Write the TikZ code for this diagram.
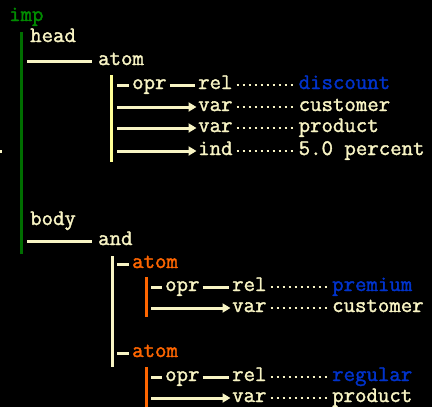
\documentclass[tikz,border=0pt]{standalone}
\usepackage{fontspec}
\newfontfamily\cour{Latin Modern Mono}[FakeBold=1.6]
\usetikzlibrary{arrows.meta}
\definecolor{cream}{RGB}{248,244,196}
\definecolor{barylw}{RGB}{255,255,150}
\definecolor{impgreen}{RGB}{0,140,0}
\definecolor{bargreen}{RGB}{0,110,0}
\definecolor{valblue}{RGB}{0,51,204}
\definecolor{atomorange}{RGB}{255,102,0}
\begin{document}
\begin{tikzpicture}[x=1pt,y=-1pt,
  txt/.style={anchor=base west, inner sep=0pt, text=cream,
    font=\cour\fontsize{22.2}{23}\selectfont},
  conn/.style={draw=cream, line width=3pt},
  arr/.style={conn, -{Triangle[length=8pt,width=9pt]}},
  dots/.style={draw=cream, line width=2pt, dash pattern=on 2pt off 4pt},
  bar/.style={line width=3pt}]
\fill[black] (0,0) rectangle (432,407);
\useasboundingbox (0,0) rectangle (432,407);
\fill[cream] (0,149.5) rectangle (2,152.5);
% head part
\node[txt,text=impgreen] (imp) at (9,21) {imp};
\node[txt] (head) at (30,42) {head};
\node[txt] (atom) at (98,65) {atom};
\node[txt] (opr1) at (132,89) {opr};
\node[txt] (rel1) at (198,89) {rel};
\node[txt] (var1) at (198,111) {var};
\node[txt] (var2) at (198,132) {var};
\node[txt] (ind) at (198,155) {ind};
\node[txt,text=valblue] (discount) at (298.5,89) {discount};
\node[txt] (customer1) at (298.5,111) {customer};
\node[txt] (product1) at (298.5,132) {product};
\node[txt] (pct) at (298.5,155) {5.0 percent};
\coordinate (g0) at (21,32);
\coordinate (g1) at (21,254);
\draw[bar,draw=bargreen] (g0) -- (g1);
\coordinate (h0) at (27,61);
\draw[conn,shorten >=6pt] (h0) -- (h0 -| atom.west);
\coordinate (y0) at (111,75);
\coordinate (y1) at (111,162);
\draw[bar,draw=barylw] (y0) -- (y1);
\coordinate (r0) at (117,85);
\draw[conn,shorten >=3pt] (r0) -- (r0 -| opr1.west);
\draw[conn,shorten <=3pt,shorten >=3pt] (opr1.east |- r0) -- (rel1.west |- r0);
\coordinate (r1) at (117,107);
\draw[arr,shorten >=1.5pt] (r1) -- (r1 -| var1.west);
\coordinate (r2) at (117,128);
\draw[arr,shorten >=1.5pt] (r2) -- (r2 -| var2.west);
\coordinate (r3) at (117,151);
\draw[arr,shorten >=1.5pt] (r3) -- (r3 -| ind.west);
\draw[dots,shorten <=4pt,shorten >=4.5pt] (rel1.east |- r0) -- (discount.west |- r0);
\draw[dots,shorten <=4pt,shorten >=4.5pt] (var1.east |- r1) -- (customer1.west |- r1);
\draw[dots,shorten <=4pt,shorten >=4.5pt] (var2.east |- r2) -- (product1.west |- r2);
\draw[dots,shorten <=4pt,shorten >=4.5pt] (ind.east |- r3) -- (pct.west |- r3);
% body part
\node[txt] (body) at (30,225) {body};
\node[txt] (and) at (98,245) {and};
\coordinate (b0) at (27,241);
\draw[conn,shorten >=6pt] (b0) -- (b0 -| and.west);
\coordinate (c0) at (112,256);
\coordinate (c1) at (112,367);
\draw[bar,draw=cream] (c0) -- (c1);
% first atom
\node[txt,text=atomorange] (atomA) at (132,268) {atom};
\coordinate (a0) at (117,264);
\draw[conn,shorten >=3pt] (a0) -- (a0 -| atomA.west);
\coordinate (o0) at (146,277);
\coordinate (o1) at (146,317);
\draw[bar,draw=atomorange] (o0) -- (o1);
\node[txt] (oprA) at (165,291) {opr};
\node[txt] (relA) at (232,291) {rel};
\node[txt] (varA) at (232,312) {var};
\node[txt,text=valblue] (premium) at (332,291) {premium};
\node[txt] (customerA) at (332,312) {customer};
\coordinate (s0) at (151,287);
\draw[conn,shorten >=3pt] (s0) -- (s0 -| oprA.west);
\draw[conn,shorten <=3pt,shorten >=3pt] (oprA.east |- s0) -- (relA.west |- s0);
\coordinate (s1) at (151,308);
\draw[arr,shorten >=1.5pt] (s1) -- (s1 -| varA.west);
\draw[dots,shorten <=4pt,shorten >=4.5pt] (relA.east |- s0) -- (premium.west |- s0);
\draw[dots,shorten <=4pt,shorten >=4.5pt] (varA.east |- s1) -- (customerA.west |- s1);
% second atom
\node[txt,text=atomorange] (atomB) at (132,357) {atom};
\coordinate (a1) at (117,353);
\draw[conn,shorten >=3pt] (a1) -- (a1 -| atomB.west);
\coordinate (p0) at (146,367);
\coordinate (p1) at (146,407);
\draw[bar,draw=atomorange] (p0) -- (p1);
\node[txt] (oprB) at (165,381) {opr};
\node[txt] (relB) at (232,381) {rel};
\node[txt] (varB) at (232,402) {var};
\node[txt,text=valblue] (regular) at (332,381) {regular};
\node[txt] (productB) at (332,402) {product};
\coordinate (t0) at (151,377);
\draw[conn,shorten >=3pt] (t0) -- (t0 -| oprB.west);
\draw[conn,shorten <=3pt,shorten >=3pt] (oprB.east |- t0) -- (relB.west |- t0);
\coordinate (t1) at (151,398);
\draw[arr,shorten >=1.5pt] (t1) -- (t1 -| varB.west);
\draw[dots,shorten <=4pt,shorten >=4.5pt] (relB.east |- t0) -- (regular.west |- t0);
\draw[dots,shorten <=4pt,shorten >=4.5pt] (varB.east |- t1) -- (productB.west |- t1);
\end{tikzpicture}
\end{document}
